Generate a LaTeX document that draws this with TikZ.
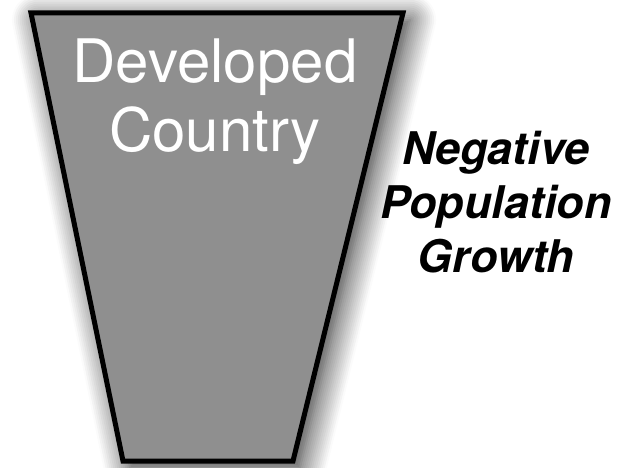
\documentclass[tikz,border=0pt]{standalone}
\usepackage{fontspec}
\setsansfont{TeX Gyre Heros}
\usepackage{tikz}
\usetikzlibrary{shadows.blur}
\definecolor{funnelgray}{RGB}{143,143,143}

\begin{document}
\begin{tikzpicture}[x=1pt,y=-1pt,
  funnel/.style={line width=5pt,line join=miter,fill=funnelgray,
    blur shadow={shadow xshift=7pt,shadow yshift=-7pt,shadow blur radius=26pt,shadow blur steps=14,shadow opacity=85}},
  country/.style={text=white,font=\sffamily\fontsize{60}{69}\selectfont,align=center,inner sep=0pt},
  growth/.style={font=\sffamily\bfseries\itshape\fontsize{45}{54}\selectfont,align=center,inner sep=0pt}]
\useasboundingbox (0,0) rectangle (621,468);
% inverted trapezoid
\coordinate (tl) at (31,13);
\coordinate (tr) at (403,13);
\coordinate (br) at (293,461);
\coordinate (bl) at (123,461);
\draw[funnel] (tl) -- (tr) -- (br) -- (bl) -- cycle;
% base anchor sits on the last line
\node[country,anchor=base] (dev) at (215,151) {Developed\\Country};
\node[growth,anchor=base] (neg) at (496,272) {Negative\\Population\\Growth};
\end{tikzpicture}
\end{document}
